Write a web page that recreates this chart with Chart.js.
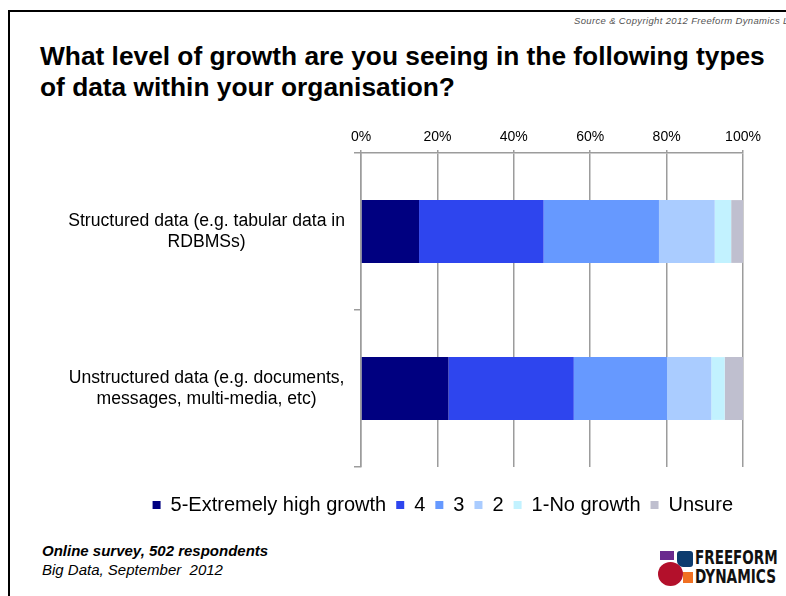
<!DOCTYPE html>
<html>
<head>
<meta charset="utf-8">
<script src="https://cdn.jsdelivr.net/npm/chart.js@4.4.0/dist/chart.umd.min.js"></script>
<style>
  html, body { margin: 0; padding: 0; width: 786px; height: 596px; overflow: hidden; background: #fff;
    font-family: "Liberation Sans", Arial, sans-serif; color: #000; }
  .frame { position: absolute; left: 8px; top: 10px; width: 820px; height: 620px;
    border-left: 2px solid #000; border-top: 2px solid #000; }
  .source { position: absolute; left: 574px; top: 15px; font-size: 9.5px; font-style: italic;
    color: #555; white-space: nowrap; letter-spacing: 0.35px; }
  .title { position: absolute; left: 40px; top: 41px; font-size: 26.3px; font-weight: bold;
    line-height: 31px; white-space: nowrap; }
  #chart { position: absolute; left: 0; top: 110px; }
  .foot { position: absolute; left: 42px; top: 541px; font-size: 15px; font-style: italic;
    line-height: 19px; white-space: nowrap; }
  .foot b { font-weight: bold; }
  .logo { position: absolute; left: 0; top: 0; }
  .logo div { position: absolute; }
  .lt { font-family: "Liberation Sans Narrow", "DejaVu Sans Condensed", "Liberation Sans", sans-serif;
    font-weight: bold; font-size: 21px; line-height: 21px; white-space: nowrap; transform-origin: 0 0; color: #111; }
</style>
</head>
<body>
<div class="frame"></div>
<div class="source">Source &amp; Copyright 2012 Freeform Dynamics Ltd</div>
<div class="title">What level of growth are you seeing in the following types<br>of data within your organisation?</div>
<canvas id="chart" width="786" height="415"></canvas>
<div class="foot"><b>Online survey, 502 respondents</b><br>Big Data, September&nbsp; 2012</div>
<div class="logo">
  <div style="left:660px;top:551px;width:14px;height:9px;background:#6a2a8e;"></div>
  <div style="left:677px;top:551px;width:16px;height:16px;background:#0c3b6e;border-radius:3px 3px 3px 6px;"></div>
  <div style="left:683px;top:572px;width:10px;height:11px;background:#f07022;"></div>
  <div style="left:658px;top:562px;width:25px;height:24px;background:#b3102b;border-radius:50%;"></div>
  <div class="lt" id="lt1" style="left:695px;top:549px;">FREEFORM</div>
  <div class="lt" id="lt2" style="left:695px;top:568px;">DYNAMICS</div>
</div>
<script>
// Categories (multi-line axis labels)
const categories = [
  ['Structured data (e.g. tabular data in', 'RDBMSs)'],
  ['Unstructured data (e.g. documents,', 'messages, multi-media, etc)']
];
// Series names, in stacking order
const seriesNames = ['5-Extremely high growth', '4', '3', '2', '1-No growth', 'Unsure'];
// Percent of respondents per category
const growth5 = [15.2, 22.9];
const growth4 = [32.6, 32.8];
const growth3 = [30.2, 24.4];
const growth2 = [14.6, 11.6];
const growth1 = [4.3, 3.5];
const unsure  = [3.1, 4.8];
// Value-axis ticks
const tickValues = [0, 20, 40, 60, 80, 100];

const seriesValues = [growth5, growth4, growth3, growth2, growth1, unsure];
const seriesColors = ['#000080', '#2e45ee', '#6699ff', '#aaccff', '#c2f2ff', '#bfbfcf'];

const FONT = '"Liberation Sans", Arial, sans-serif';
const GRID = '#9c9c9c';

new Chart(document.getElementById('chart'), {
  type: 'bar',
  data: {
    labels: categories,
    datasets: seriesNames.map((name, i) => ({
      label: name,
      data: seriesValues[i],
      backgroundColor: seriesColors[i],
      borderWidth: 0,
      barPercentage: 0.4,
      categoryPercentage: 1.0
    }))
  },
  options: {
    indexAxis: 'y',
    responsive: false,
    animation: false,
    devicePixelRatio: 1,
    layout: { padding: { left: 0, right: 43, top: 0, bottom: 0 } },
    scales: {
      x: {
        position: 'top',
        stacked: true,
        min: 0,
        max: 100,
        afterBuildTicks: (s) => { s.ticks = tickValues.map(v => ({ value: v })); },
        afterFit: (s) => { s.height = 43; },
        ticks: {
          callback: (v) => v + '%',
          padding: 4,
          color: '#000',
          font: { family: FONT, size: 14 }
        },
        grid: { color: GRID, lineWidth: 1.5, tickLength: 3, drawTicks: true },
        border: { display: true, color: GRID, width: 1.5 }
      },
      y: {
        stacked: true,
        afterFit: (s) => { s.width = 361; },
        ticks: {
          crossAlign: 'center',
          padding: 9,
          color: '#000',
          font: { family: FONT, size: 17.6, lineHeight: 1.2 }
        },
        grid: { offset: true, drawOnChartArea: false, drawTicks: true, tickLength: 7, color: GRID, lineWidth: 1.5 },
        border: { display: true, color: GRID, width: 1.5 }
      }
    },
    plugins: {
      tooltip: { enabled: false },
      legend: {
        position: 'bottom',
        align: 'end',
        title: { display: true, text: '', font: { size: 10, lineHeight: 1 }, padding: { top: 8, bottom: 0 } },
        labels: {
          boxWidth: 8,
          boxHeight: 8,
          padding: 10,
          color: '#000',
          font: { family: FONT, size: 20 }
        }
      }
    }
  }
});

// Fit the logo wordmark into its box
[['lt1', 83], ['lt2', 81]].forEach(([id, w]) => {
  const el = document.getElementById(id);
  const sx = w / el.offsetWidth;
  el.style.transform = 'scale(' + sx + ', 0.9)';
});
</script>
</body>
</html>
